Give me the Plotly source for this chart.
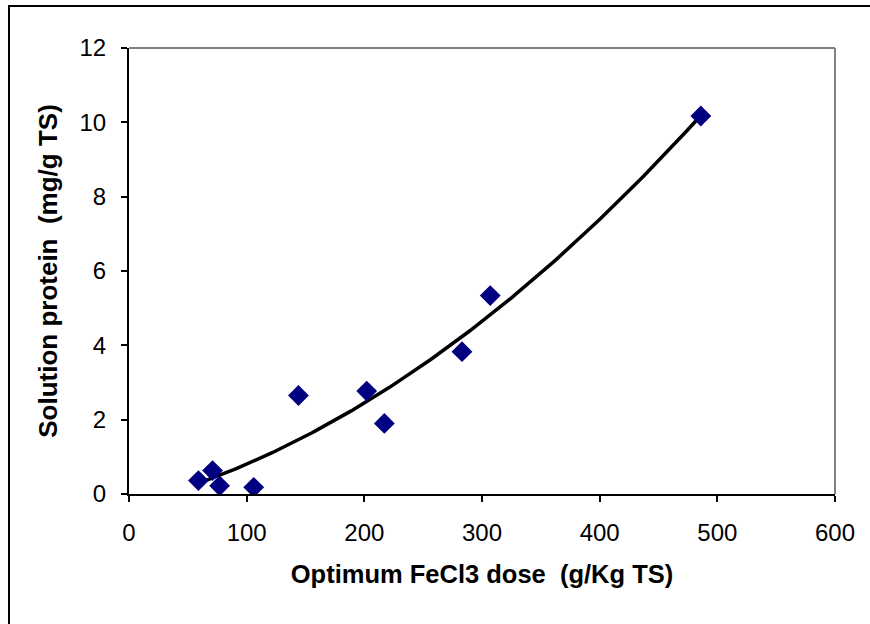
import numpy as np
import plotly.graph_objects as go

# Data
fecl3_dose = [59, 71, 77, 106, 144, 202, 217, 283, 307, 486]
solution_protein = [0.36, 0.63, 0.22, 0.18, 2.65, 2.77, 1.90, 3.83, 5.34, 10.17]

x_ticks = [0, 100, 200, 300, 400, 500, 600]
y_ticks = [0, 2, 4, 6, 8, 10, 12]

# Second-order polynomial trendline fitted to the data
coef = np.polyfit(fecl3_dose, solution_protein, 2)
xt = np.linspace(min(fecl3_dose), max(fecl3_dose), 200)
yt = np.polyval(coef, xt)

fig = go.Figure()
fig.add_trace(go.Scatter(x=xt, y=yt, mode="lines",
                         line=dict(color="black", width=3.5), showlegend=False,
                         hoverinfo="skip"))
fig.add_trace(go.Scatter(x=fecl3_dose, y=solution_protein, mode="markers",
                         marker=dict(symbol="diamond", size=16, color="#000080",
                                     line=dict(width=0)),
                         showlegend=False))

font = "Liberation Sans, Arial, sans-serif"
W, H = 870, 624
L, R, T, B = 129, 35, 48, 130
pw, ph = W - L - R, H - T - B

def px_x(p):
    return (p - L) / pw

def px_y(p):
    return (H - B - p) / ph

fig.update_layout(
    width=W, height=H,
    margin=dict(l=L, r=R, t=T, b=B),
    paper_bgcolor="white", plot_bgcolor="white",
    font=dict(family=font, color="black"),
    xaxis=dict(range=[0, 600], tickvals=x_ticks, ticktext=[str(v) for v in x_ticks],
               ticks="outside", ticklen=6, tickwidth=2, tickcolor="black",
               ticklabelstandoff=10,
               showline=True, linecolor="black", linewidth=2,
               showgrid=False, zeroline=False,
               tickfont=dict(size=24, family=font),
               title=dict(text="<b>Optimum FeCl3 dose  (g/Kg TS)</b>",
                          font=dict(size=25.5, family=font), standoff=20)),
    yaxis=dict(range=[0, 12], tickvals=y_ticks, ticktext=[str(v) for v in y_ticks],
               ticks="outside", ticklen=6, tickwidth=2, tickcolor="black",
               ticklabelstandoff=10,
               showline=True, linecolor="black", linewidth=2,
               showgrid=False, zeroline=False,
               tickfont=dict(size=24, family=font),
               title=dict(text="<b>Solution protein  (mg/g TS)</b>",
                          font=dict(size=26, family=font), standoff=14)),
    shapes=[
        # gray top and right plot-area border
        dict(type="line", xref="paper", yref="paper", x0=0, x1=1, y0=1, y1=1,
             line=dict(color="#808080", width=2)),
        dict(type="line", xref="paper", yref="paper", x0=1, x1=1, y0=0, y1=1,
             line=dict(color="#808080", width=2)),
        # outer chart border (top and left visible)
        dict(type="line", xref="paper", yref="paper", x0=px_x(8), x1=px_x(872),
             y0=px_y(6), y1=px_y(6), line=dict(color="black", width=2)),
        dict(type="line", xref="paper", yref="paper", x0=px_x(9), x1=px_x(9),
             y0=px_y(6), y1=px_y(630), line=dict(color="black", width=2)),
    ],
)

fig.write_html("out.html")
